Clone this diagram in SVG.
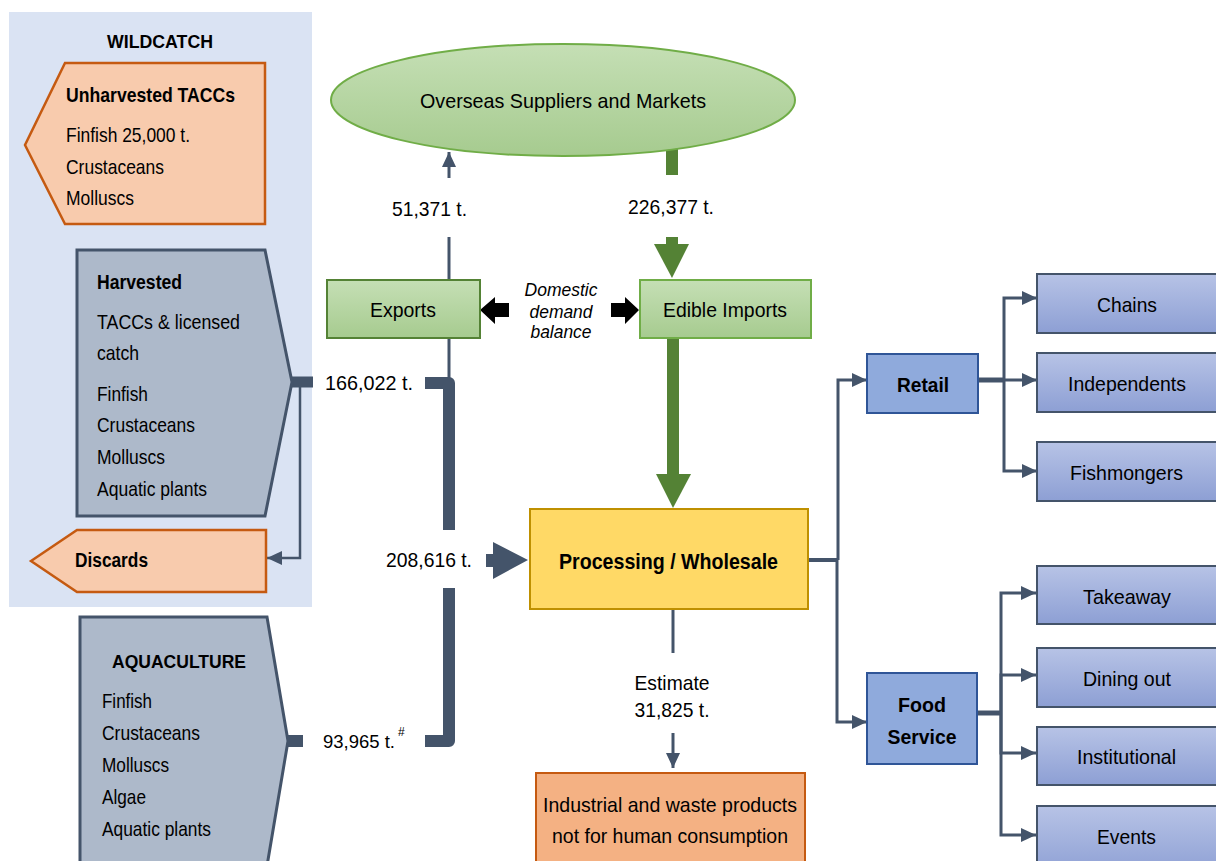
<svg xmlns="http://www.w3.org/2000/svg" width="1216" height="861" viewBox="0 0 1216 861">
<defs>
<linearGradient id="gGreen" x1="0" y1="0" x2="0" y2="1"><stop offset="0" stop-color="#c5dfb5"/><stop offset="1" stop-color="#a6cb8f"/></linearGradient>
<linearGradient id="gBlue" x1="0" y1="0" x2="0" y2="1"><stop offset="0" stop-color="#b7c3e6"/><stop offset="1" stop-color="#8d9fd4"/></linearGradient>
<marker id="arr" markerUnits="userSpaceOnUse" markerWidth="15" markerHeight="14" refX="15" refY="7" orient="auto"><path d="M0,0 L15,7 L0,14 z" fill="#44546a"/></marker>
<style>
text{font-family:"Liberation Sans",Arial,sans-serif;font-size:21px;fill:#000}
.b{font-weight:bold}
.m{text-anchor:middle}
.it{font-style:italic;font-size:18px}
.thin{fill:none;stroke:#44546a;stroke-width:3}
.thick{fill:none;stroke:#44546a;stroke-width:12;stroke-linejoin:round}
.orange{fill:#f8cbad;stroke:#c55a11;stroke-width:2.5}
.slate{fill:#adb9ca;stroke:#44546a;stroke-width:3}
.child{fill:url(#gBlue);stroke:#44546a;stroke-width:2}
.mid{fill:#8faadc;stroke:#2f5597;stroke-width:2}
</style>
</defs>
<rect x="0" y="0" width="1216" height="861" fill="#ffffff"/>
<rect id="wildcatch-panel" x="9" y="12" width="303" height="595" fill="#dae3f3"/>
<text class="b m" x="160" y="48" textLength="106" lengthAdjust="spacingAndGlyphs" style="font-size:18px">WILDCATCH</text>

<g id="connectors">
<path class="thin" d="M449,178 V152" marker-end="url(#arr)"/>
<path class="thin" d="M449,237 V280"/>
<path class="thin" d="M449,338 V378"/>
<rect x="666" y="148" width="12" height="27" fill="#548235"/>
<rect x="666" y="237" width="12" height="8" fill="#548235"/>
<polygon points="654,244 689,244 672,278" fill="#548235"/>
<rect x="667" y="338" width="12" height="137" fill="#548235"/>
<polygon points="656,474 691,474 673,508" fill="#548235"/>
<polygon points="480,310 495,297 495,303 509,303 509,317 495,317 495,324" fill="#000"/>
<polygon points="639,310 625,297 625,303 611,303 611,317 625,317 625,324" fill="#000"/>
<line x1="290" y1="382" x2="313" y2="382" stroke="#44546a" stroke-width="11"/>
<path d="M300,382 V558 H267" fill="none" stroke="#44546a" stroke-width="2.5" marker-end="url(#arr)"/>
<path class="thick" d="M425,383 H449 V530"/>
<line x1="286" y1="741" x2="303" y2="741" stroke="#44546a" stroke-width="12"/>
<path class="thick" d="M425,741 H449 V588"/>
<polygon points="486,554 493,554 493,542 528,560 493,579 493,567 486,567" fill="#44546a"/>
<path class="thin" d="M673,609 V653"/>
<path class="thin" d="M673,733 V768" marker-end="url(#arr)"/>
<path d="M808,560 H838" fill="none" stroke="#44546a" stroke-width="4"/>
<path class="thin" d="M838,560 V380 H867" marker-end="url(#arr)"/>
<path class="thin" d="M837,560 V722 H867" marker-end="url(#arr)"/>
<path d="M978,380 H1004" fill="none" stroke="#44546a" stroke-width="5"/>
<path class="thin" d="M1004,380 V298 H1037" marker-end="url(#arr)"/>
<path class="thin" d="M1004,380 H1037" marker-end="url(#arr)"/>
<path class="thin" d="M1004,380 V471 H1037" marker-end="url(#arr)"/>
<path d="M977,713 H1002" fill="none" stroke="#44546a" stroke-width="5"/>
<path class="thin" d="M1001,713 V593 H1036" marker-end="url(#arr)"/>
<path class="thin" d="M1001,713 V675 H1036" marker-end="url(#arr)"/>
<path class="thin" d="M1001,713 V753 H1036" marker-end="url(#arr)"/>
<path class="thin" d="M1001,713 V835 H1036" marker-end="url(#arr)"/>
</g>

<g id="labels">
<text x="325" y="390" textLength="88" lengthAdjust="spacingAndGlyphs">166,022 t.</text>
<text x="386" y="567" textLength="86" lengthAdjust="spacingAndGlyphs">208,616 t.</text>
<text x="323" y="748" style="font-size:18.5px">93,965 t.</text>
<text x="398" y="736" style="font-size:12px">#</text>
<text class="m" x="429.5" y="216" textLength="75" lengthAdjust="spacingAndGlyphs">51,371 t.</text>
<text class="m" x="671" y="214" textLength="86" lengthAdjust="spacingAndGlyphs">226,377 t.</text>
<text class="m it" x="561" y="296" textLength="73" lengthAdjust="spacingAndGlyphs">Domestic</text>
<text class="m it" x="561" y="318" textLength="63" lengthAdjust="spacingAndGlyphs">demand</text>
<text class="m it" x="561" y="338" textLength="61" lengthAdjust="spacingAndGlyphs">balance</text>
<text class="m" x="672" y="690" textLength="75" lengthAdjust="spacingAndGlyphs">Estimate</text>
<text class="m" x="672" y="717" textLength="75" lengthAdjust="spacingAndGlyphs">31,825 t.</text>
</g>

<g id="unharvested">
<polygon class="orange" points="65,63 265,63 265,224 65,224 25,145"/>
<text class="b" x="66" y="102" textLength="169" lengthAdjust="spacingAndGlyphs">Unharvested TACCs</text>
<text x="66" y="142" textLength="124" lengthAdjust="spacingAndGlyphs">Finfish 25,000 t.</text>
<text x="66" y="174" textLength="98" lengthAdjust="spacingAndGlyphs">Crustaceans</text>
<text x="66" y="205" textLength="68" lengthAdjust="spacingAndGlyphs">Molluscs</text>
</g>

<g id="harvested">
<polygon class="slate" points="77,250 265,250 292,382 265,516 77,516"/>
<text class="b" x="97" y="289" textLength="85" lengthAdjust="spacingAndGlyphs" style="font-size:20px">Harvested</text>
<text x="97" y="329" textLength="143" lengthAdjust="spacingAndGlyphs">TACCs &amp; licensed</text>
<text x="97" y="360" textLength="42" lengthAdjust="spacingAndGlyphs">catch</text>
<text x="97" y="401" textLength="51" lengthAdjust="spacingAndGlyphs">Finfish</text>
<text x="97" y="432" textLength="98" lengthAdjust="spacingAndGlyphs">Crustaceans</text>
<text x="97" y="464" textLength="68" lengthAdjust="spacingAndGlyphs">Molluscs</text>
<text x="97" y="496" textLength="110" lengthAdjust="spacingAndGlyphs">Aquatic plants</text>
</g>

<g id="discards">
<polygon class="orange" points="31,561 77,530 266,530 266,592 77,592"/>
<text class="b" x="75" y="567" textLength="73" lengthAdjust="spacingAndGlyphs" style="font-size:20px">Discards</text>
</g>

<g id="aquaculture">
<polygon class="slate" points="80,617 267,617 288,741 267,866 80,866"/>
<text class="b m" x="179" y="668" textLength="134" lengthAdjust="spacingAndGlyphs" style="font-size:19px">AQUACULTURE</text>
<text x="102" y="708" textLength="50" lengthAdjust="spacingAndGlyphs">Finfish</text>
<text x="102" y="740" textLength="98" lengthAdjust="spacingAndGlyphs">Crustaceans</text>
<text x="102" y="772" textLength="67" lengthAdjust="spacingAndGlyphs">Molluscs</text>
<text x="102" y="804" textLength="44" lengthAdjust="spacingAndGlyphs">Algae</text>
<text x="102" y="836" textLength="109" lengthAdjust="spacingAndGlyphs">Aquatic plants</text>
</g>

<g id="overseas">
<ellipse cx="563" cy="100" rx="232" ry="56" fill="url(#gGreen)" stroke="#70ad47" stroke-width="2"/>
<text class="m" x="563" y="108" textLength="286" lengthAdjust="spacingAndGlyphs">Overseas Suppliers and Markets</text>
</g>

<g id="exports">
<rect x="327" y="280" width="153" height="58" fill="url(#gGreen)" stroke="#548235" stroke-width="2"/>
<text class="m" x="403" y="317" textLength="66" lengthAdjust="spacingAndGlyphs">Exports</text>
</g>

<g id="imports">
<rect x="640" y="280" width="171" height="58" fill="url(#gGreen)" stroke="#70ad47" stroke-width="2"/>
<text class="m" x="725" y="317" textLength="124" lengthAdjust="spacingAndGlyphs">Edible Imports</text>
</g>

<g id="processing">
<rect x="530" y="509" width="278" height="100" fill="#ffd966" stroke="#bf9000" stroke-width="2"/>
<text class="b m" x="668.5" y="569" textLength="219" lengthAdjust="spacingAndGlyphs" style="font-size:22px">Processing / Wholesale</text>
</g>

<g id="industrial">
<rect x="536" y="773" width="269" height="100" fill="#f4b183" stroke="#c55a11" stroke-width="2"/>
<text class="m" x="670" y="812" textLength="254" lengthAdjust="spacingAndGlyphs">Industrial and waste products</text>
<text class="m" x="670" y="843" textLength="236" lengthAdjust="spacingAndGlyphs">not for human consumption</text>
</g>

<g id="retail">
<rect x="867" y="354" width="111" height="59" class="mid"/>
<text class="b m" x="923" y="392" textLength="52" lengthAdjust="spacingAndGlyphs">Retail</text>
</g>

<g id="foodservice">
<rect x="867" y="673" width="110" height="91" class="mid"/>
<text class="b m" x="922" y="712" textLength="48" lengthAdjust="spacingAndGlyphs">Food</text>
<text class="b m" x="922" y="744" textLength="69" lengthAdjust="spacingAndGlyphs">Service</text>
</g>

<g id="chains"><rect x="1037" y="274" width="200" height="59" class="child"/><text class="m" x="1127" y="312" textLength="60" lengthAdjust="spacingAndGlyphs">Chains</text></g>
<g id="independents"><rect x="1037" y="353" width="200" height="59" class="child"/><text class="m" x="1127" y="391" textLength="118" lengthAdjust="spacingAndGlyphs">Independents</text></g>
<g id="fishmongers"><rect x="1037" y="442" width="200" height="59" class="child"/><text class="m" x="1126.5" y="480" textLength="113" lengthAdjust="spacingAndGlyphs">Fishmongers</text></g>
<g id="takeaway"><rect x="1037" y="566" width="200" height="58" class="child"/><text class="m" x="1127" y="604" textLength="88" lengthAdjust="spacingAndGlyphs">Takeaway</text></g>
<g id="diningout"><rect x="1037" y="648" width="200" height="59" class="child"/><text class="m" x="1127" y="686" textLength="88" lengthAdjust="spacingAndGlyphs">Dining out</text></g>
<g id="institutional"><rect x="1037" y="727" width="200" height="58" class="child"/><text class="m" x="1126.5" y="764" textLength="99" lengthAdjust="spacingAndGlyphs">Institutional</text></g>
<g id="events"><rect x="1037" y="806" width="200" height="70" class="child"/><text class="m" x="1126.5" y="844" textLength="59" lengthAdjust="spacingAndGlyphs">Events</text></g>
</svg>
